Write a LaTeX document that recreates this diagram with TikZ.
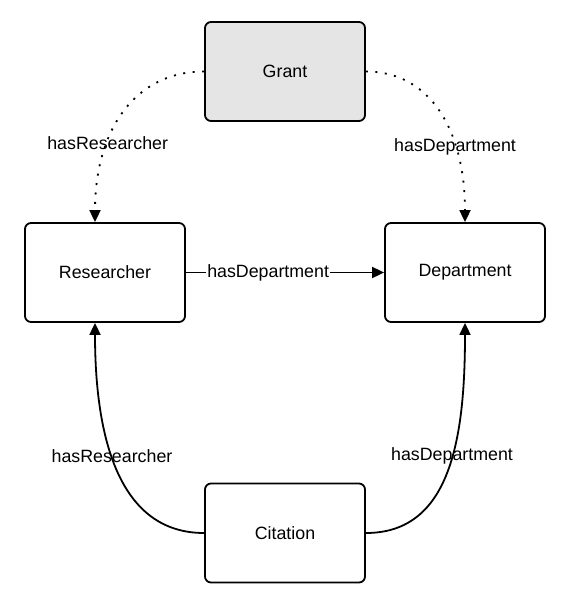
\documentclass[tikz,border=0pt]{standalone}
\usepackage{fontspec}
\setmainfont{Liberation Sans}
\usetikzlibrary{arrows.meta}
\begin{document}
\begin{tikzpicture}[x=1pt,y=-1pt,
  every node/.style={font=\fontsize{17.8}{21}\selectfont},
  box/.style={draw,line width=1.8pt,rounded corners=6pt,minimum width=160pt,minimum height=99pt,inner sep=0pt,fill=white},
  conn/.style={line width=1.8pt,-{Triangle[length=12pt,width=11pt]}},
  dots/.style={conn,dash pattern=on 2pt off 7.5pt},
  lbl/.style={inner sep=1pt}
]
\useasboundingbox (0,0) rectangle (567,607);
\node[box,fill=gray!20] (G) at (285,71.5) {Grant};
\node[box] (R) at (105,272.5) {Researcher};
\node[box] (D) at (465,272.5) {Department};
\node[box] (C) at (285,533) {Citation};

\draw[dots] (G.west) .. controls (135,71.5) and (95,130) .. ([xshift=-10pt]R.north)
  node[lbl,pos=0.67] {hasResearcher};
\draw[dots] (G.east) .. controls (430,71.5) and (465,130) .. (D.north)
  node[lbl,pos=0.69] {hasDepartment};
\draw[conn] (R.east) -- (D.west)
  node[lbl,pos=0.415,fill=white] {hasDepartment};
\draw[conn] (C.west) .. controls (120,533) and (95,440) .. ([xshift=-10pt]R.south)
  node[lbl,pos=0.565] {hasResearcher};
\draw[conn] (C.east) .. controls (450,533) and (465,440) .. (D.south)
  node[lbl,pos=0.565] {hasDepartment};
\end{tikzpicture}
\end{document}
